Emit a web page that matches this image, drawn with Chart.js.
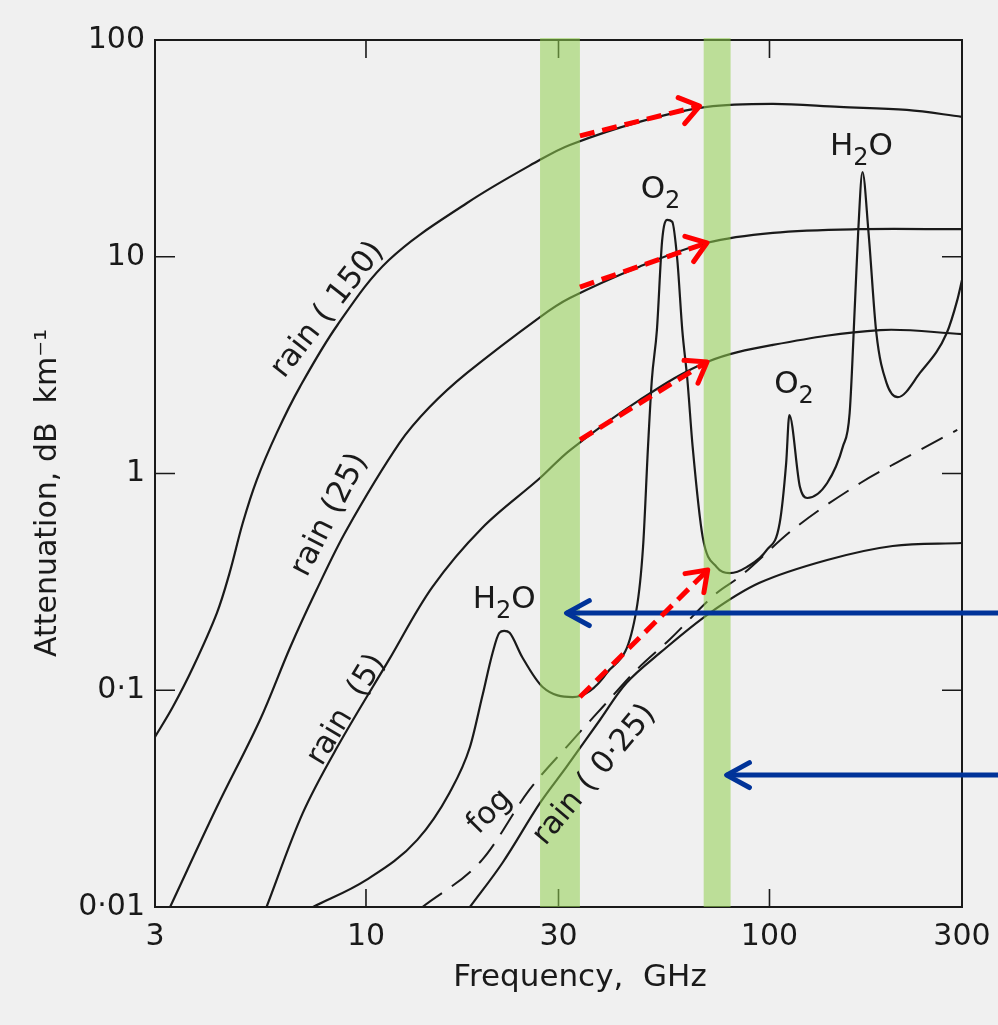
<!DOCTYPE html>
<html>
<head>
<meta charset="utf-8">
<script src="https://cdn.jsdelivr.net/npm/chart.js@4.4.1/dist/chart.umd.min.js"></script>
<style>
  html, body { margin: 0; padding: 0; background: #f0f0f0; }
  canvas { display: block; }
</style>
</head>
<body>
<canvas id="chart" width="998" height="1025"></canvas>
<script>
// axis ticks
const xTicks = [3, 10, 30, 100, 300];
const yTicks = [0.01, 0.1, 1, 10, 100];
const yTickLabels = ["0·01", "0·1", "1", "10", "100"];

// rain 150 mm/h
const rain150Freq = [3, 3.32, 3.73, 4.27, 4.59, 4.95, 5.36, 6.01, 6.86, 8.49, 11.4, 17.8, 27.0, 32.0, 47.6, 70, 102, 149, 219, 300];
const rain150Atten = [0.0609, 0.0837, 0.128, 0.227, 0.347, 0.591, 0.933, 1.54, 2.51, 4.83, 9.66, 17.7, 28.0, 32.8, 41.9, 49.1, 50.7, 49.1, 47.6, 44.2];

// rain 25 mm/h
const rain25Freq = [3.27, 4.27, 5.46, 6.49, 7.54, 8.95, 12.1, 14.4, 17.8, 27.0, 32.0, 47.6, 70, 102, 165, 300];
const rain25Atten = [0.01, 0.0289, 0.0729, 0.158, 0.29, 0.549, 1.38, 2.03, 2.91, 5.27, 6.45, 9.0, 11.6, 12.9, 13.4, 13.4];

// rain 5 mm/h
const rain5Freq = [5.67, 6.97, 8.49, 11.4, 14.6, 19.4, 27.0, 32.0, 47.6, 70, 102, 188, 300];
const rain5Atten = [0.01, 0.0271, 0.0547, 0.138, 0.299, 0.561, 0.953, 1.28, 2.18, 3.27, 3.92, 4.59, 4.4];

// clear air (H2O and O2 lines)
const gasFreq = [7.39, 10.0, 13.4, 16.1, 18.1, 19.4, 20.6, 21.4, 22.0, 22.7, 24.4, 27.4, 32.5, 39.5, 46.8, 48.6, 50.0, 51.1, 52.6, 54.2, 55.8, 57.4, 59.1, 60.8, 62.6, 64.5, 68.3, 74.0, 79.7, 87.8, 98.5, 106, 110, 112, 119, 124, 139, 152, 158, 163, 166, 170, 176, 184, 195, 208, 236, 275, 292, 300];
const gasAtten = [0.01, 0.0133, 0.0204, 0.0336, 0.0547, 0.093, 0.149, 0.184, 0.188, 0.184, 0.142, 0.1035, 0.093, 0.12, 0.235, 0.458, 1.33, 2.7, 4.59, 11.9, 14.8, 14.5, 9.66, 4.59, 2.7, 1.33, 0.51, 0.37, 0.347, 0.37, 0.444, 0.591, 1.12, 1.86, 0.866, 0.771, 0.904, 1.33, 1.9, 6.31, 13.3, 24.6, 12.9, 4.45, 2.62, 2.25, 2.91, 4.45, 6.31, 7.81];

// fog (dashed)
const fogFreq = [13.8, 19.4, 25.4, 31.4, 38.6, 46.8, 56.5, 74.0, 84.2, 114, 168, 219, 292];
const fogAtten = [0.01, 0.0165, 0.0347, 0.0547, 0.0837, 0.124, 0.171, 0.281, 0.333, 0.549, 0.904, 1.19, 1.59];

// rain 0.25 mm/h
const rain025Freq = [18.1, 21.8, 27.0, 31.4, 38.0, 44.2, 53.6, 71.1, 94.5, 139, 202, 300];
const rain025Atten = [0.01, 0.016, 0.0302, 0.0443, 0.0729, 0.108, 0.149, 0.227, 0.313, 0.399, 0.463, 0.478];

// highlighted frequency bands
const bandStart = [27.0, 68.7];
const bandEnd = [33.9, 80.1];

// red dashed arrows
const redFromFreq = [33.9, 33.9, 33.9, 33.9];
const redFromAtten = [36.1, 7.25, 1.43, 0.0931];
const redToFreq = [67.1, 70, 70, 70.3];
const redToAtten = [49.6, 11.6, 3.27, 0.359];

// blue arrows (come in from beyond the right edge)
const blueFromFreq = [370, 370];
const blueToFreq = [31.4, 78.3];
const blueAtten = [0.227, 0.0406];

// curve labels ("_" marks a subscript part)
const labelText = ["rain ( 150)", "rain (25)", "rain  (5)", "H_2_O", "O_2", "H_2_O", "O_2", "fog", "rain ( 0·25)"];
const labelFreq = [8.05, 8.14, 8.96, 22.0, 53.7, 169, 115, 20.3, 36.9];
const labelAtten = [5.68, 0.644, 0.0811, 0.261, 20.3, 32.1, 2.56, 0.0274, 0.0406];
const labelAngle = [-52, -63, -59, 0, 0, 0, 0, -45, -50];

const INK = "#1a1a1a";
const FONT = "'DejaVu Sans', sans-serif";

function pts(xs, ys) {
  return xs.map((x, i) => ({ x: x, y: ys[i] }));
}

const curveStyle = {
  borderColor: INK,
  borderWidth: 2.2,
  pointRadius: 0,
  fill: false,
  order: 1,
};
const smooth = { ...curveStyle, tension: 0.35 };
const sharp = { ...curveStyle, cubicInterpolationMode: "monotone" };

const datasets = [
  { ...smooth, label: "rain (150)", data: pts(rain150Freq, rain150Atten) },
  { ...smooth, label: "rain (25)", data: pts(rain25Freq, rain25Atten) },
  { ...smooth, label: "rain (5)", data: pts(rain5Freq, rain5Atten) },
  { ...sharp, label: "gases", data: pts(gasFreq, gasAtten) },
  { ...sharp, label: "fog", data: pts(fogFreq, fogAtten), borderDash: [24, 12], borderWidth: 2 },
  { ...smooth, label: "rain (0.25)", data: pts(rain025Freq, rain025Atten) },
];

redFromFreq.forEach((f, i) => {
  datasets.push({
    label: "red arrow " + i,
    data: [{ x: f, y: redFromAtten[i] }, { x: redToFreq[i], y: redToAtten[i] }],
    borderColor: "#ff0000",
    borderWidth: 5,
    borderDash: [15, 8],
    pointRadius: 0,
    tension: 0,
    order: 0,
    arrow: { len: 23, spread: 0.62, width: 5 },
  });
});

blueFromFreq.forEach((f, i) => {
  datasets.push({
    label: "blue arrow " + i,
    data: [{ x: f, y: blueAtten[i] }, { x: blueToFreq[i], y: blueAtten[i] }],
    borderColor: "#003399",
    borderWidth: 5,
    pointRadius: 0,
    tension: 0,
    clip: false,
    order: 0,
    arrow: { len: 26, spread: 0.5, width: 5 },
  });
});

let bandsDrawn = false;

function drawBands(chart) {
  const { ctx, chartArea, scales } = chart;
  ctx.save();
  ctx.fillStyle = "rgba(146, 208, 80, 0.55)";
  bandStart.forEach((f, i) => {
    const x0 = scales.x.getPixelForValue(f);
    const x1 = scales.x.getPixelForValue(bandEnd[i]);
    ctx.fillRect(x0, chartArea.top - 2, x1 - x0, chartArea.bottom - chartArea.top + 2);
  });
  ctx.restore();
}

// draws text where "_x_" parts are set as lowered subscripts
function drawRichText(ctx, text) {
  const parts = text.split("_");
  const big = "31px " + FONT;
  const small = "24px " + FONT;
  let total = 0;
  parts.forEach((p, k) => {
    ctx.font = k % 2 ? small : big;
    total += ctx.measureText(p).width;
  });
  let x = -total / 2;
  ctx.textAlign = "left";
  parts.forEach((p, k) => {
    ctx.font = k % 2 ? small : big;
    ctx.fillText(p, x, k % 2 ? 12 : 0);
    x += ctx.measureText(p).width;
  });
}

const decorations = {
  id: "decorations",
  beforeDatasetsDraw(chart) {
    bandsDrawn = false;
    const { ctx, chartArea: a, scales } = chart;
    ctx.save();
    ctx.strokeStyle = INK;
    ctx.lineWidth = 2;
    ctx.strokeRect(a.left, a.top, a.right - a.left, a.bottom - a.top);
    ctx.lineWidth = 1.6;
    ctx.beginPath();
    xTicks.slice(1, -1).forEach((v) => {
      const px = scales.x.getPixelForValue(v);
      ctx.moveTo(px, a.bottom);
      ctx.lineTo(px, a.bottom - 18);
      ctx.moveTo(px, a.top);
      ctx.lineTo(px, a.top + 18);
    });
    yTicks.slice(1, -1).forEach((v) => {
      const py = scales.y.getPixelForValue(v);
      ctx.moveTo(a.left, py);
      ctx.lineTo(a.left + 20, py);
      ctx.moveTo(a.right, py);
      ctx.lineTo(a.right - 20, py);
    });
    ctx.stroke();
    ctx.restore();
  },
  beforeDatasetDraw(chart, args) {
    const ds = chart.data.datasets[args.index];
    if (!bandsDrawn && ds.arrow) {
      drawBands(chart);
      bandsDrawn = true;
    }
  },
  afterDatasetDraw(chart, args) {
    const ds = chart.data.datasets[args.index];
    if (!ds.arrow) return;
    const pts = args.meta.data;
    const p0 = pts[pts.length - 2];
    const p1 = pts[pts.length - 1];
    const ang = Math.atan2(p1.y - p0.y, p1.x - p0.x);
    const { ctx } = chart;
    ctx.save();
    ctx.strokeStyle = ds.borderColor;
    ctx.lineWidth = ds.arrow.width;
    ctx.lineCap = "round";
    ctx.lineJoin = "round";
    ctx.beginPath();
    ctx.moveTo(p1.x - ds.arrow.len * Math.cos(ang - ds.arrow.spread), p1.y - ds.arrow.len * Math.sin(ang - ds.arrow.spread));
    ctx.lineTo(p1.x, p1.y);
    ctx.lineTo(p1.x - ds.arrow.len * Math.cos(ang + ds.arrow.spread), p1.y - ds.arrow.len * Math.sin(ang + ds.arrow.spread));
    ctx.stroke();
    ctx.restore();
  },
  afterDraw(chart) {
    const { ctx, scales } = chart;
    ctx.save();
    ctx.fillStyle = INK;
    ctx.textBaseline = "middle";
    labelText.forEach((t, i) => {
      const px = scales.x.getPixelForValue(labelFreq[i]);
      const py = scales.y.getPixelForValue(labelAtten[i]);
      ctx.save();
      ctx.translate(px, py);
      ctx.rotate((labelAngle[i] * Math.PI) / 180);
      drawRichText(ctx, t);
      ctx.restore();
    });
    // axis titles
    ctx.textAlign = "center";
    ctx.font = "31px " + FONT;
    ctx.fillText("Frequency,  GHz", 580, 978);
    ctx.save();
    ctx.translate(48, 493);
    ctx.rotate(-Math.PI / 2);
    ctx.font = "30px " + FONT;
    ctx.fillText("Attenuation, dB  km⁻¹", 0, 0);
    ctx.restore();
    ctx.restore();
  },
};

new Chart(document.getElementById("chart"), {
  type: "line",
  data: { datasets: datasets },
  options: {
    responsive: false,
    animation: false,
    layout: { padding: { left: 0, top: 40, right: 36, bottom: 0 } },
    plugins: { legend: { display: false }, tooltip: { enabled: false } },
    scales: {
      x: {
        type: "logarithmic",
        min: 3,
        max: 300,
        afterBuildTicks: (s) => { s.ticks = xTicks.map((v) => ({ value: v })); },
        afterFit: (s) => { s.height = 118; s.paddingLeft = 0; s.paddingRight = 0; },
        grid: { display: false, drawTicks: false },
        border: { display: false },
        ticks: {
          color: INK,
          font: { family: FONT, size: 30 },
          padding: 12,
          maxRotation: 0,
          autoSkip: false,
          callback: (v) => String(v),
        },
      },
      y: {
        type: "logarithmic",
        min: 0.01,
        max: 100,
        afterBuildTicks: (s) => { s.ticks = yTicks.map((v) => ({ value: v })); },
        afterFit: (s) => { s.width = 155; s.paddingTop = 0; s.paddingBottom = 0; },
        grid: { display: false, drawTicks: false },
        border: { display: false },
        ticks: {
          color: INK,
          font: { family: FONT, size: 30 },
          padding: 10,
          autoSkip: false,
          callback: (v) => yTickLabels[yTicks.indexOf(v)],
        },
      },
    },
  },
  plugins: [decorations],
});
</script>
</body>
</html>
